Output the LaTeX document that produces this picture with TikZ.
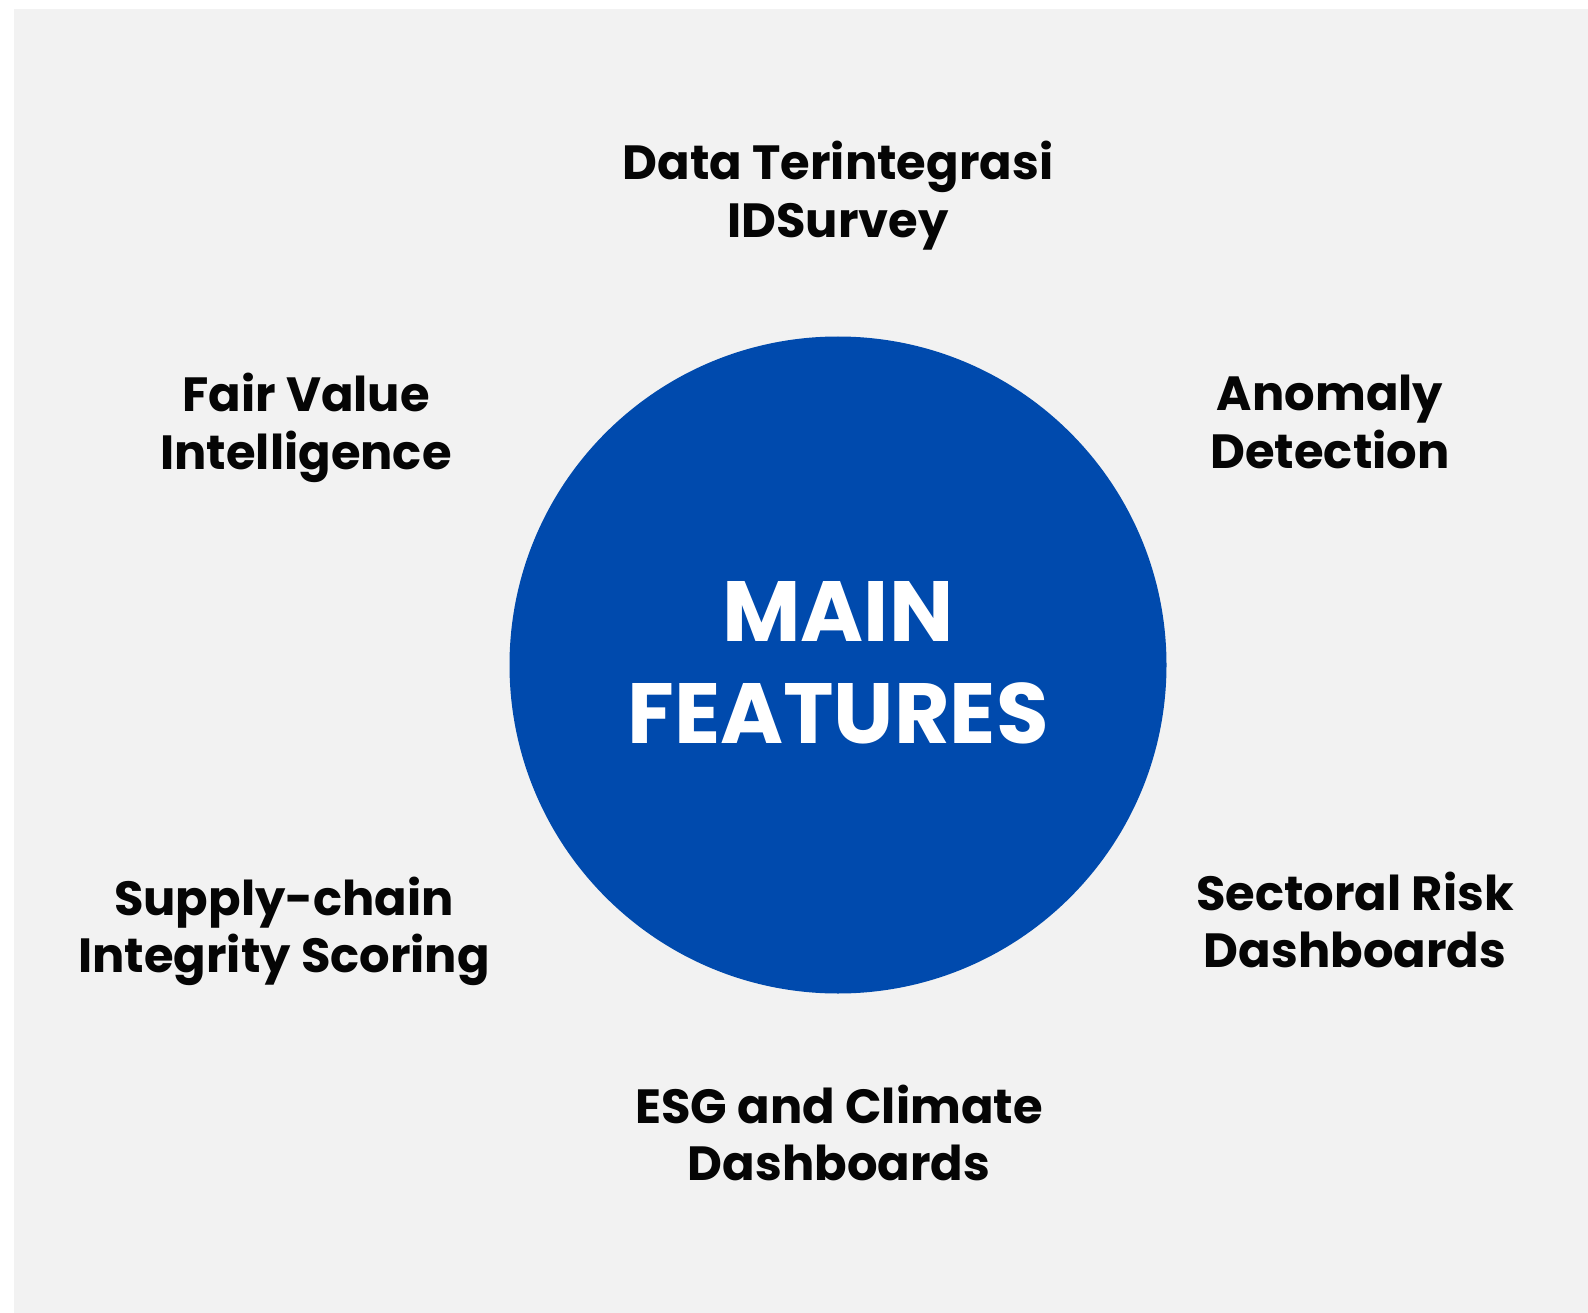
\documentclass[tikz,border=0pt]{standalone}
\usepackage{fontspec}
\setmainfont{Poppins}
\definecolor{bgc}{HTML}{F2F2F2}
\definecolor{hubblue}{HTML}{004AAD}
\definecolor{labelc}{HTML}{050505}
\tikzset{
  featlabel/.style={anchor=base, inner sep=0pt, text=labelc, font=\fontsize{48}{57.5}\selectfont\bfseries},
  hubtext/.style={anchor=base, inner sep=0pt, text=white, font=\fontsize{85.5}{102}\selectfont\bfseries},
  hubcircle/.style={circle, fill=hubblue, minimum size=657pt, inner sep=0pt}
}
\newcommand{\twolines}[2]{\begin{tabular}[t]{@{}c@{}}#1\\#2\end{tabular}}
\begin{document}
\begin{tikzpicture}[x=1pt,y=-1pt]
\useasboundingbox (0,0) rectangle (1588,1313);
\fill[white] (0,0) rectangle (1588,1313);
\fill[bgc] (14,9) rectangle (1588,1313);
\node[hubcircle] (hub) at (838,665) {};
\node[hubtext] (title) at (838,641) {\twolines{MAIN}{FEATURES}};
\node[featlabel] (data) at (838,180) {\twolines{Data Terintegrasi}{IDSurvey}};
\node[featlabel] (fair) at (306,412) {\twolines{Fair Value}{Intelligence}};
\node[featlabel] (anomaly) at (1330,411) {\twolines{Anomaly}{Detection}};
\node[featlabel] (supply) at (284,915) {\twolines{Supply-chain}{Integrity Scoring}};
\node[featlabel] (sectoral) at (1355,910) {\twolines{Sectoral Risk}{Dashboards}};
\node[featlabel] (esg) at (839,1123) {\twolines{ESG and Climate}{Dashboards}};
\end{tikzpicture}
\end{document}
